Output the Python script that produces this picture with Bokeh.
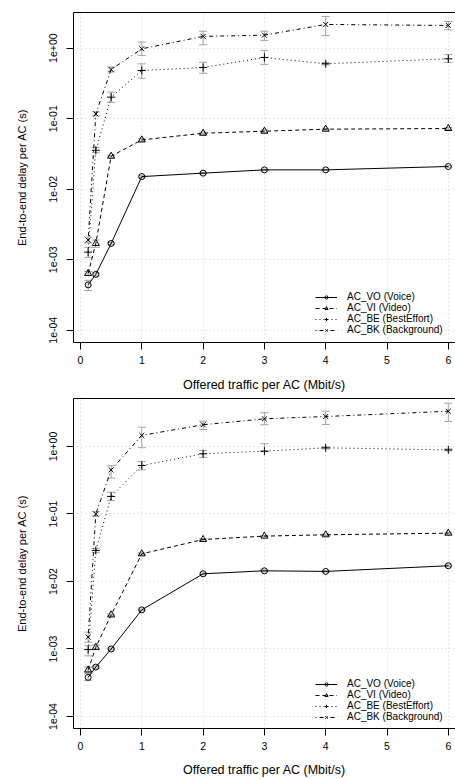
from bokeh.plotting import figure
from bokeh.models import (ColumnDataSource, Whisker, TeeHead, FixedTicker, Range1d,
                          Legend, LegendItem, LinearAxis)
from bokeh.layouts import column
from bokeh.embed import file_html
from bokeh.resources import INLINE

# ---------------- data ----------------
x_vals = [0.125, 0.25, 0.5, 1, 2, 3, 4, 6]
x_ticks = [0, 1, 2, 3, 4, 5, 6]
y_ticks = [1e-4, 1e-3, 1e-2, 1e-1, 1e0]
y_tick_labels = ["1e-04", "1e-03", "1e-02", "1e-01", "1e+00"]
series_labels = ["AC_VO (Voice)", "AC_VI (Video)", "AC_BE (BestEffort)", "AC_BK (Background)"]

# top panel
top_vo = [4.4e-4, 6.2e-4, 1.7e-3, 0.0151, 0.0169, 0.0188, 0.0188, 0.021]
top_vi = [6.4e-4, 1.7e-3, 0.0294, 0.050, 0.0622, 0.0665, 0.071, 0.0726]
top_be = [1.28e-3, 0.0357, 0.202, 0.483, 0.532, 0.738, 0.601, 0.707]
top_bk = [1.9e-3, 0.117, 0.499, 0.98, 1.47, 1.53, 2.17, 2.1]

top_vo_lo = [3.66e-4, 5.9e-4, 1.65e-3, 0.0147, 0.0165, 0.0184, 0.0184, 0.0205]
top_vo_hi = [5.1e-4, 6.5e-4, 1.75e-3, 0.0155, 0.0173, 0.0192, 0.0192, 0.0215]
top_vi_lo = [6.0e-4, 1.5e-3, 0.0285, 0.048, 0.060, 0.064, 0.069, 0.0705]
top_vi_hi = [6.8e-4, 1.9e-3, 0.0303, 0.052, 0.0645, 0.069, 0.073, 0.075]
top_be_lo = [1.08e-3, 0.033, 0.171, 0.375, 0.44, 0.59, 0.58, 0.63]
top_be_hi = [1.5e-3, 0.039, 0.238, 0.60, 0.63, 0.93, 0.63, 0.81]
top_bk_lo = [1.74e-3, 0.11, 0.46, 0.79, 1.12, 1.29, 1.51, 1.82]
top_bk_hi = [2.1e-3, 0.125, 0.54, 1.22, 1.74, 1.74, 2.82, 2.39]

# bottom panel
bot_vo = [3.8e-4, 5.4e-4, 1.0e-3, 3.8e-3, 0.013, 0.0144, 0.0141, 0.0171]
bot_vi = [4.9e-4, 1.06e-3, 3.2e-3, 0.0257, 0.0419, 0.047, 0.0492, 0.052]
bot_be = [9.8e-4, 0.0288, 0.182, 0.523, 0.78, 0.853, 0.955, 0.89]
bot_bk = [1.5e-3, 0.1, 0.45, 1.46, 2.1, 2.57, 2.78, 3.33]

bot_vo_lo = [3.4e-4, 5.2e-4, 0.97e-3, 3.7e-3, 0.0126, 0.014, 0.0137, 0.0166]
bot_vo_hi = [4.3e-4, 5.6e-4, 1.03e-3, 3.9e-3, 0.0134, 0.0148, 0.0145, 0.0176]
bot_vi_lo = [4.5e-4, 0.98e-3, 3.1e-3, 0.025, 0.041, 0.046, 0.048, 0.0505]
bot_vi_hi = [5.4e-4, 1.15e-3, 3.3e-3, 0.0265, 0.043, 0.048, 0.0505, 0.0535]
bot_be_lo = [0.79e-3, 0.027, 0.158, 0.45, 0.69, 0.84, 0.92, 0.86]
bot_be_hi = [1.12e-3, 0.031, 0.21, 0.60, 0.87, 1.1, 0.99, 0.92]
bot_bk_lo = [1.26e-3, 0.093, 0.34, 0.96, 1.79, 2.1, 2.12, 2.35]
bot_bk_hi = [1.78e-3, 0.108, 0.52, 1.93, 2.37, 3.16, 3.33, 4.38]

# ---------------- styling ----------------
FONT = "Liberation Sans"
ERR_COLOR = "#a3a3a3"
styles = [
    dict(dash="solid", marker="circle", size=6),
    dict(dash="4 3", marker="triangle", size=7),
    dict(dash="1 3", marker="cross", size=8),
    dict(dash="1 3 4 3", marker="x", size=7),
]


def make_panel(series, border_top, border_bottom, y_start, y_end, label_standoff, legend_y):
    p = figure(frame_width=382, frame_height=330, output_backend="svg",
               toolbar_location=None,
               y_axis_type="log", x_range=Range1d(-0.114, 6.117),
               y_range=Range1d(y_start, y_end),
               min_border_left=73, min_border_right=0, min_border_top=border_top,
               min_border_bottom=border_bottom)
    p.outline_line_color = None
    p.background_fill_color = "white"
    p.border_fill_color = "white"

    # grid
    p.xgrid.ticker = FixedTicker(ticks=x_ticks)
    p.ygrid.ticker = FixedTicker(ticks=y_ticks)
    for g in (p.xgrid, p.ygrid):
        g.grid_line_color = "#cfcfcf"
        g.grid_line_dash = "1 3"
        g.grid_line_width = 1

    # axes
    p.xaxis.ticker = FixedTicker(ticks=x_ticks)
    p.yaxis.ticker = FixedTicker(ticks=y_ticks)
    p.yaxis.major_label_overrides = {t: l for t, l in zip(y_ticks, y_tick_labels)}
    p.yaxis.major_label_orientation = "vertical"
    for ax in (p.xaxis, p.yaxis):
        ax.axis_line_color = "black"
        ax.major_tick_line_color = "black"
        ax.major_tick_in = 0
        ax.major_tick_out = 7
        ax.minor_tick_line_color = None
        ax.major_label_text_font = FONT
        ax.major_label_text_font_size = "10.5px"
        ax.major_label_text_color = "black"
        ax.axis_label_text_font = FONT
        ax.axis_label_text_font_style = "normal"
        ax.axis_label_text_color = "black"
    p.xaxis.major_label_standoff = 6
    p.yaxis.major_label_standoff = 9
    p.xaxis.axis_label = "Offered traffic per AC (Mbit/s)"
    p.xaxis.axis_label_text_font_size = "12.5px"
    p.xaxis.axis_label_standoff = label_standoff
    p.yaxis.axis_label = "End-to-end delay per AC (s)"
    p.yaxis.axis_label_text_font_size = "11px"
    p.yaxis.axis_label_standoff = 19

    top_axis = LinearAxis(ticker=FixedTicker(ticks=[]), axis_line_color="black",
                          major_tick_line_color=None, minor_tick_line_color=None,
                          major_tick_out=0, major_tick_in=0, major_label_standoff=0,
                          axis_label_standoff=0,
                          major_label_text_font_size="0px")
    p.add_layout(top_axis, "above")

    items = []
    for (yv, lo, hi), st, lab in zip(series, styles, series_labels):
        src = ColumnDataSource(dict(x=x_vals, y=yv, lo=lo, hi=hi))
        w = Whisker(source=src, base="x", lower="lo", upper="hi",
                    line_color=ERR_COLOR, line_width=1,
                    upper_head=TeeHead(size=8, line_color=ERR_COLOR, line_width=1),
                    lower_head=TeeHead(size=8, line_color=ERR_COLOR, line_width=1))
        p.add_layout(w)
        lr = p.line("x", "y", source=src, line_color="black", line_width=1,
                    line_dash=st["dash"])
        sr = p.scatter("x", "y", source=src, marker=st["marker"], size=st["size"],
                       line_color="black", line_width=1, fill_color=None)
        items.append(LegendItem(label=lab, renderers=[lr, sr]))

    legend = Legend(items=items, location=(242, legend_y), orientation="vertical",
                    background_fill_alpha=0, border_line_color=None,
                    label_text_font=FONT, label_text_font_size="10px",
                    label_text_color="black",
                    label_height=8, glyph_height=8, glyph_width=22,
                    label_standoff=10, spacing=0, padding=0, margin=0)
    p.add_layout(legend)
    return p


p1 = make_panel(
    [(top_vo, top_vo_lo, top_vo_hi), (top_vi, top_vi_lo, top_vi_hi),
     (top_be, top_be_lo, top_be_hi), (top_bk, top_bk_lo, top_bk_hi)],
    border_top=12, border_bottom=52, y_start=10 ** -4.174, y_end=10 ** 0.506,
    label_standoff=11, legend_y=7)

p2 = make_panel(
    [(bot_vo, bot_vo_lo, bot_vo_hi), (bot_vi, bot_vi_lo, bot_vi_hi),
     (bot_be, bot_be_lo, bot_be_hi), (bot_bk, bot_bk_lo, bot_bk_hi)],
    border_top=4, border_bottom=51, y_start=10 ** -4.178, y_end=10 ** 0.711,
    label_standoff=10, legend_y=6)

layout = column(p1, p2, spacing=0)

open("out.html", "w").write(file_html(layout, INLINE))
